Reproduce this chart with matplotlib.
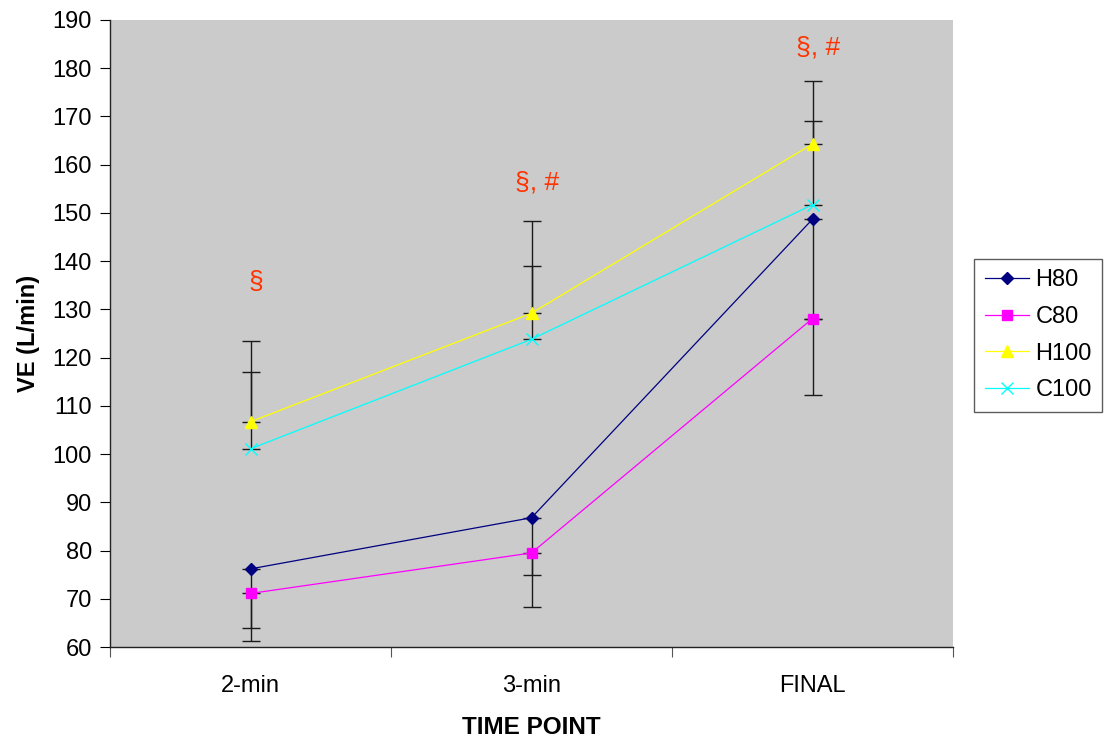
import matplotlib
matplotlib.use("Agg")
import matplotlib.pyplot as plt

plt.rcParams['font.family'] = ['Liberation Sans', 'DejaVu Sans']

# Data
time_points = ["2-min", "3-min", "FINAL"]
h80 = [76.2, 86.8, 148.7]
c80 = [71.1, 79.5, 128.1]
h100 = [106.7, 129.2, 164.3]
c100 = [101.1, 123.8, 151.7]
# one-sided SD bars (H80/C80 downward, H100/C100 upward)
h80_err = [12.3, 11.8, 20.6]
c80_err = [9.9, 11.2, 15.9]
h100_err = [16.7, 19.1, 13.1]
c100_err = [16.0, 15.2, 17.4]
sig_labels = ["§", "§, #", "§, #"]
sig_y = [135.7, 156.4, 184.2]

fig = plt.figure(figsize=(11.07, 7.40), dpi=100)
ax = fig.add_axes([110/1107, 1 - 647/740, (953-110)/1107, (647-20)/740])
ax.set_facecolor("#CBCBCB")

x = list(range(len(time_points)))

eb_kw = dict(fmt="none", ecolor="#1a1a1a", elinewidth=1.0, capsize=6.5, capthick=1.0, zorder=2)
ax.errorbar(x, h80, yerr=[h80_err, [0]*3], **eb_kw)
ax.errorbar(x, c80, yerr=[c80_err, [0]*3], **eb_kw)
ax.errorbar(x, h100, yerr=[[0]*3, h100_err], **eb_kw)
ax.errorbar(x, c100, yerr=[[0]*3, c100_err], **eb_kw)

ax.plot(x, h80, color="#000080", lw=0.9, marker="D", ms=6.5, mfc="#000080", mec="#000080", label="H80", zorder=3)
ax.plot(x, c80, color="#FF00FF", lw=0.9, marker="s", ms=6.5, mfc="#FF00FF", mec="#FF00FF", label="C80", zorder=3)
ax.plot(x, h100, color="#FFFF00", lw=0.9, marker="^", ms=8, mfc="#FFFF00", mec="#FFFF00", label="H100", zorder=3)
ax.plot(x, c100, color="#00FFFF", lw=0.9, marker="x", ms=8, mew=1.0, label="C100", zorder=3)

for xi, (lab, yv) in enumerate(zip(sig_labels, sig_y)):
    ax.text(xi + 0.02, yv, lab, color="#FF3300", fontsize=19, ha="center", va="center")

ax.set_xlim(-0.5, 2.5)
ax.set_ylim(60, 190)
ax.set_yticks(range(60, 191, 10))
ax.set_xticks([-0.5, 0.5, 1.5, 2.5])
ax.set_xticklabels([])
ax.set_xticks(x, minor=True)
ax.set_xticklabels(time_points, minor=True)
ax.tick_params(axis="x", which="major", direction="out", length=7, width=0.8, color="#555555")
ax.tick_params(axis="x", which="minor", length=0, pad=20, labelsize=17)
ax.tick_params(axis="y", direction="out", length=7, width=0.8, labelsize=17, pad=6)

for side in ["top", "right"]:
    ax.spines[side].set_visible(False)
for side in ["left", "bottom"]:
    ax.spines[side].set_linewidth(1.0)
    ax.spines[side].set_color("#222222")

ax.set_ylabel("VE (L/min)", fontsize=17, fontweight="bold", labelpad=9)
ax.set_xlabel("TIME POINT", fontsize=17.5, fontweight="bold", labelpad=14)

leg = ax.legend(loc="center left", bbox_to_anchor=((974 - 110) / 843, 0.497), fontsize=17,
                frameon=True, fancybox=False, edgecolor="#333333", handlelength=1.9,
                borderpad=0.45, labelspacing=0.62, handletextpad=0.25, borderaxespad=0)
leg.get_frame().set_linewidth(1.0)

fig.savefig("out.png", dpi=100)
